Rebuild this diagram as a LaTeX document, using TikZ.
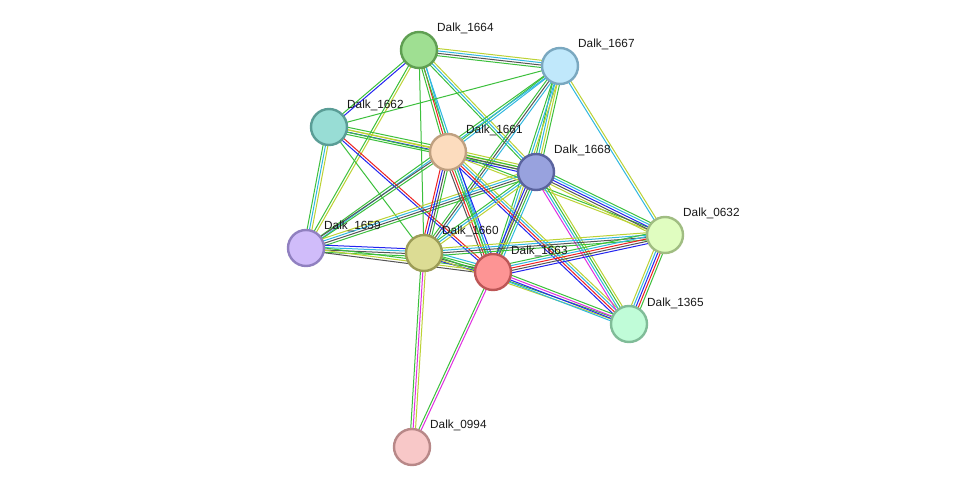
\documentclass[tikz,border=0pt]{standalone}
\usepackage{fontspec}
\setmainfont{Liberation Sans}
\usetikzlibrary{calc}
\pgfdeclarelayer{bg}
\pgfdeclarelayer{edges}
\pgfsetlayers{bg,edges,main}
\definecolor{eg}{HTML}{3CC03C}
\definecolor{er}{HTML}{EE2222}
\definecolor{eb}{HTML}{2424F0}
\definecolor{ek}{HTML}{555555}
\definecolor{em}{HTML}{E030E0}
\definecolor{ec}{HTML}{30B8E0}
\definecolor{ey}{HTML}{BCD234}
% node colours
\definecolor{f64}{HTML}{9FDF92}\definecolor{d64}{HTML}{5F9F52}
\definecolor{f67}{HTML}{C0E8FB}\definecolor{d67}{HTML}{7AA8C0}
\definecolor{f62}{HTML}{98DDD5}\definecolor{d62}{HTML}{5A9D96}
\definecolor{f61}{HTML}{FCDCBE}\definecolor{d61}{HTML}{BFA080}
\definecolor{f68}{HTML}{98A2DE}\definecolor{d68}{HTML}{5A639E}
\definecolor{f32}{HTML}{E0FDC0}\definecolor{d32}{HTML}{A0BD82}
\definecolor{f59}{HTML}{D0BCFA}\definecolor{d59}{HTML}{9080C0}
\definecolor{f60}{HTML}{DCDC94}\definecolor{d60}{HTML}{9C9C56}
\definecolor{f63}{HTML}{FD9494}\definecolor{d63}{HTML}{BD5656}
\definecolor{f65}{HTML}{C0FCD8}\definecolor{d65}{HTML}{80BC98}
\definecolor{f94}{HTML}{F8C8C8}\definecolor{d94}{HTML}{B88888}
\newcommand\sedge[4]{%
  \foreach \c [count=\i] in {#4}{%
    \pgfmathsetmacro\off{(\i-(#3+1)/2)*2.4}%
    \draw[draw=\c, line width=1pt] ($(#1.center)!\off pt!90:(#2.center)$) -- ($(#2.center)!\off pt!-90:(#1.center)$);
  }}
\tikzset{
  prot/.style={circle, minimum size=36pt, inner sep=0pt, line width=2.4pt},
  lbl/.style={anchor=west, inner sep=0pt, font=\fontsize{11.8}{13}\selectfont, text=black!90}
}
\begin{document}
\begin{tikzpicture}[x=1pt,y=-1pt]
\begin{pgfonlayer}{bg}
\fill[white] (0,0) rectangle (975,492);
\end{pgfonlayer}
\useasboundingbox (0,0) rectangle (975,492);
\node[prot, draw=d64, fill=f64] (n64) at (419,50) {};
\node[prot, draw=d67, fill=f67] (n67) at (560,66) {};
\node[prot, draw=d62, fill=f62] (n62) at (329,127) {};
\node[prot, draw=d61, fill=f61] (n61) at (448,152) {};
\node[prot, draw=d68, fill=f68] (n68) at (536,172) {};
\node[prot, draw=d32, fill=f32] (n32) at (665,235) {};
\node[prot, draw=d59, fill=f59] (n59) at (306,248) {};
\node[prot, draw=d60, fill=f60] (n60) at (424,253) {};
\node[prot, draw=d63, fill=f63] (n63) at (493,272) {};
\node[prot, draw=d65, fill=f65] (n65) at (629,324) {};
\node[prot, draw=d94, fill=f94] (n94) at (412,447) {};
\node[lbl] (l64) at (437,28) {Dalk\_1664};
\node[lbl] (l67) at (578,44) {Dalk\_1667};
\node[lbl] (l62) at (347,105) {Dalk\_1662};
\node[lbl] (l61) at (466,130) {Dalk\_1661};
\node[lbl] (l68) at (554,150) {Dalk\_1668};
\node[lbl] (l32) at (683,213) {Dalk\_0632};
\node[lbl] (l59) at (324,226) {Dalk\_1659};
\node[lbl] (l60) at (442,231) {Dalk\_1660};
\node[lbl] (l63) at (511,251) {Dalk\_1663};
\node[lbl] (l65) at (647,303) {Dalk\_1365};
\node[lbl] (l94) at (430,425) {Dalk\_0994};
\begin{pgfonlayer}{edges}
\sedge{n64}{n67}{4}{eg,ek,ec,ey}
\sedge{n64}{n62}{2}{eg,eb}
\sedge{n64}{n61}{3}{eg,er,ec}
\sedge{n64}{n63}{2}{eg,ec}
\sedge{n64}{n68}{3}{eg,ec,ey}
\sedge{n64}{n60}{1}{eg}
\sedge{n64}{n59}{2}{eg,ey}
\sedge{n67}{n62}{1}{eg}
\sedge{n67}{n61}{2}{eg,ec}
\sedge{n67}{n68}{4}{eg,ec,ey,eg}
\sedge{n67}{n60}{3}{eg,ek,ec}
\sedge{n67}{n63}{3}{eg,ec,ey}
\sedge{n67}{n32}{2}{ec,ey}
\sedge{n67}{n59}{2}{eg,ec}
\sedge{n62}{n61}{4}{eg,eb,ey,eg}
\sedge{n62}{n68}{2}{eg,ey}
\sedge{n62}{n59}{3}{eg,ec,ey}
\sedge{n62}{n63}{2}{eb,er}
\sedge{n62}{n60}{1}{eg}
\sedge{n61}{n68}{4}{eb,ek,eg,ey}
\sedge{n59}{n61}{2}{eg,ek}
\sedge{n59}{n68}{4}{eg,ek,ec,ey}
\sedge{n61}{n60}{4}{er,eb,ek,eg}
\sedge{n61}{n63}{5}{ek,er,eg,ec,eb}
\sedge{n61}{n65}{4}{eb,er,ec,ey}
\sedge{n61}{n32}{2}{ey,eg}
\sedge{n68}{n32}{5}{ey,ek,eb,ec,eg}
\sedge{n68}{n65}{4}{em,ec,eg,ey}
\sedge{n68}{n63}{4}{eb,ek,eg,ec}
\sedge{n68}{n60}{3}{eg,ec,ey}
\sedge{n59}{n60}{4}{eg,ek,ec,eb}
\sedge{n59}{n63}{3}{ek,ey,eg}
\sedge{n60}{n63}{4}{eb,ek,eg,ec}
\sedge{n60}{n32}{4}{eg,ek,ec,ey}
\sedge{n60}{n65}{2}{ey,eg}
\sedge{n60}{n94}{3}{eg,em,ey}
\sedge{n63}{n32}{5}{eb,ek,er,ec,eg}
\sedge{n63}{n65}{4}{ec,eb,em,eg}
\sedge{n63}{n94}{2}{eg,em}
\sedge{n32}{n65}{5}{ey,ec,eb,er,eg}
\end{pgfonlayer}
\end{tikzpicture}
\end{document}
